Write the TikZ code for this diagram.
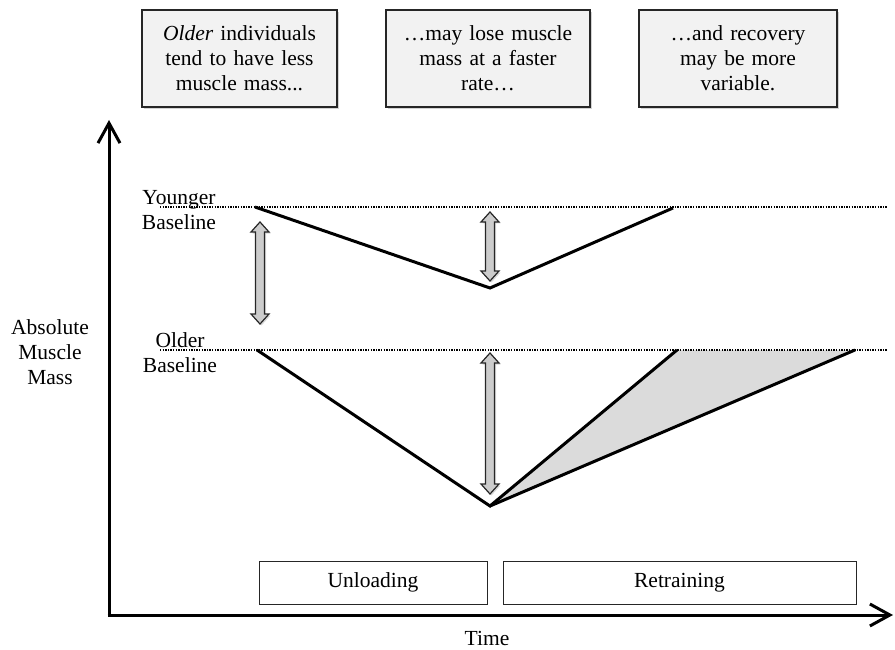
\documentclass[tikz,border=0pt]{standalone}
\usepackage{fontspec}
\setmainfont{Liberation Serif}
\usetikzlibrary{arrows.meta,shadows}
\newcommand{\dblblock}[3]{%
  \draw[blockarrow] (#1,#2) -- (#1+9,#2+10) -- (#1+4.5,#2+10) -- (#1+4.5,#3-10) -- (#1+9,#3-10) -- (#1,#3)
    -- (#1-9,#3-10) -- (#1-4.5,#3-10) -- (#1-4.5,#2+10) -- (#1-9,#2+10) -- cycle;}
\begin{document}
\begin{tikzpicture}[x=1pt,y=-1pt,
  txt/.style={font=\fontsize{21.5}{25}\selectfont, align=center, inner sep=0pt},
  topbox/.style={txt, draw=black!85, line width=1.2pt, fill=black!5,
    drop shadow={shadow xshift=2pt, shadow yshift=-2pt, opacity=0.35}, minimum height=97pt},
  phasebox/.style={txt, draw=black!85, line width=1pt, fill=white, minimum height=43pt},
  axisline/.style={line width=3pt, -{Straight Barb[length=20pt,width=22pt]}},
  baseln/.style={line width=1.3pt, dash pattern=on 1.3pt off 1.3pt},
  massline/.style={line width=3pt},
  blockarrow/.style={draw=black!85, line width=1.2pt, fill=black!20,
    drop shadow={shadow xshift=1.5pt, shadow yshift=-1.5pt, opacity=0.3}}]
\useasboundingbox (0,0) rectangle (895,650);

% top boxes
\node[topbox, text width=195pt, minimum width=195pt] (tb1) at (239.5,58.5)
  {\textit{Older} individuals\\tend to have less\\muscle mass...};
\node[topbox, text width=204pt, minimum width=204pt] (tb2) at (488,58.5)
  {…may lose muscle\\mass at a faster\\rate…};
\node[topbox, text width=198pt, minimum width=198pt] (tb3) at (738,58.5)
  {…and recovery\\may be more\\variable.};

% key points
\coordinate (org) at (109,615);
\coordinate (ytip) at (109,120);
\coordinate (xstart) at (107.5,615);
\coordinate (xtip) at (893,615);
\coordinate (yb0) at (160,207);
\coordinate (yb1) at (887,207);
\coordinate (ob0) at (160,350);
\coordinate (ob1) at (887,350);
\coordinate (y0) at (255,207);
\coordinate (yv) at (490,288);
\coordinate (y1) at (673,208);
\coordinate (o0) at (257,350);
\coordinate (ov) at (490,506);
\coordinate (o1) at (677,350);
\coordinate (o2) at (855,350);

% shaded recovery region
\fill[black!14] (ov) -- (o1) -- (o2) -- cycle;

% baselines
\draw[baseln] (yb0) -- (yb1);
\draw[baseln] (ob0) -- (ob1);

% mass trajectories
\draw[massline] (y0) -- (yv) -- (y1);
\draw[massline] (o0) -- (ov) -- (o1);
\draw[massline] (ov) -- (o2);

% block double arrows
\dblblock{260}{222}{324}
\dblblock{490}{212}{281}
\dblblock{490}{353}{494}

% axes
\draw[axisline] (org) -- (ytip);
\draw[axisline] (xstart) -- (xtip);

% labels
\node[txt] (younger) at (179,210) {Younger\\Baseline};
\node[txt] (older) at (180,353) {Older\\Baseline};
\node[txt] (ylab) at (50,352) {Absolute\\Muscle\\Mass};
\node[txt] (time) at (487,638) {Time};

% phase boxes
\node[phasebox, minimum width=228pt] (unl) at (373,582.5) {Unloading};
\node[phasebox, minimum width=353pt] (ret) at (679.5,582.5) {Retraining};
\end{tikzpicture}
\end{document}
